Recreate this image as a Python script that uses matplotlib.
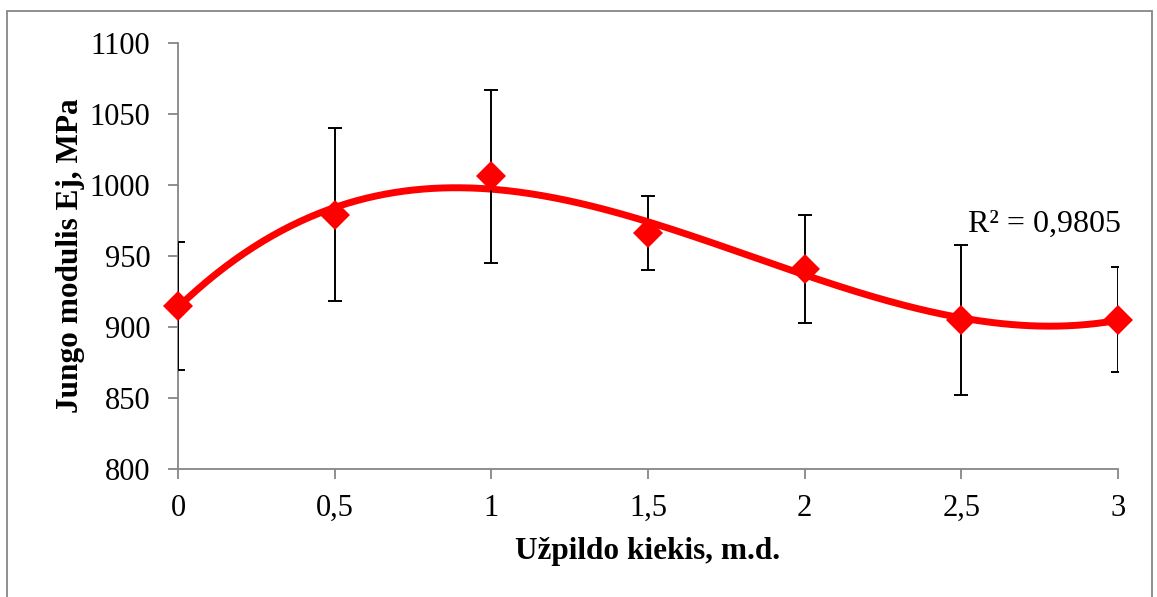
import numpy as np
import matplotlib.pyplot as plt
from matplotlib.patches import Rectangle

# data
kiekis = [0, 0.5, 1, 1.5, 2, 2.5, 3]
modulis = [915, 979, 1006, 966, 941, 905, 905]
paklaida = [45, 61, 61, 26, 38, 53, 37]
x_ticks = [0, 0.5, 1, 1.5, 2, 2.5, 3]
x_tick_labels = ['0', '0,5', '1', '1,5', '2', '2,5', '3']
y_ticks = [800, 850, 900, 950, 1000, 1050, 1100]
r2_text = 'R² = 0,9805'

plt.rcParams['font.family'] = ['Liberation Serif', 'DejaVu Serif']

fig = plt.figure(figsize=(11.57, 5.97), dpi=100)
ax = fig.add_axes([0.1538, 0.2144, 0.8125, 0.7136])

gray = '#868686'
fig.patches.append(Rectangle((7/1157, -0.02), 1145/1157, 1.02 - 11/597,
                             transform=fig.transFigure, fill=False,
                             edgecolor=gray, lw=1.3))

# 3rd order polynomial trend line (as in Excel)
koef = np.polyfit(kiekis, modulis, 3)
xs = np.linspace(0, 3, 300)
ax.plot(xs, np.polyval(koef, xs), color='#ff0000', lw=5, zorder=2,
        solid_capstyle='butt')

ax.errorbar(kiekis, modulis, yerr=paklaida, fmt='none', ecolor='black',
            elinewidth=1.4, capsize=5, capthick=1.4, zorder=3)
ax.plot(kiekis, modulis, linestyle='none', marker='D', markersize=15.5,
        color='#ff0000', markeredgewidth=0, zorder=4, clip_on=False)

ax.text(2.52, 967, r2_text, fontsize=23, ha='left', va='baseline')

ax.set_xlim(0, 3)
ax.set_ylim(800, 1100)
ax.set_xticks(x_ticks)
ax.set_xticklabels(x_tick_labels)
ax.set_yticks(y_ticks)

for s in ['top', 'right']:
    ax.spines[s].set_visible(False)
for s in ['left', 'bottom']:
    ax.spines[s].set_color(gray)
    ax.spines[s].set_linewidth(1.3)

ax.tick_params(axis='both', colors=gray, labelcolor='black', labelsize=22,
               length=7, width=1.3)
ax.tick_params(axis='y', pad=13)
ax.tick_params(axis='x', pad=11)

ax.set_xlabel('Užpildo kiekis, m.d.', fontsize=22.5, fontweight='bold', labelpad=10)
ax.set_ylabel('Jungo modulis Ej, MPa', fontsize=22.5, fontweight='bold', labelpad=3)

fig.savefig('out.png', dpi=100)
